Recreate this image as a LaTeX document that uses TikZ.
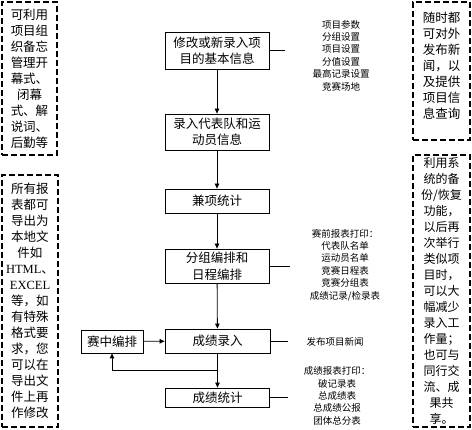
\documentclass[tikz,border=0pt]{standalone}
\usepackage{fontspec}
\setmainfont{Liberation Serif}
\newfontfamily\cjk{Noto Sans CJK SC}
\usetikzlibrary{arrows.meta,positioning,calc}

\begin{document}
\begin{tikzpicture}[
    x=1pt, y=-1pt,
    proc/.style={draw, line width=0.8pt, inner sep=0pt, align=center,
                 minimum width=104pt, font=\cjk\fontsize{12.5}{16.5}\selectfont},
    memo/.style={draw, line width=1.3pt, dash pattern=on 6pt off 3pt,
                 inner sep=0pt, align=center,
                 font=\cjk\fontsize{12.5}{16}\selectfont},
    info/.style={inner sep=0pt, align=center,
                 font=\cjk\fontsize{9.5}{12.4}\selectfont},
    arr/.style={-{Triangle[length=5pt,width=4.5pt]}, line width=0.8pt},
    link/.style={line width=0.8pt}
  ]
    \useasboundingbox (0,0) rectangle (472,430);

    % main flow
    \node[proc, minimum height=37pt] (basic) at (217,50.5) {修改或新录入项\\目的基本信息};
    \node[proc, minimum height=36pt] (teams) at (217,132) {录入代表队和运\\动员信息};
    \node[proc, minimum height=24pt] (multi) at (217,201) {兼项统计};
    \node[proc, minimum height=34pt] (groups) at (217,266) {分组编排和\\日程编排};
    \node[proc, minimum height=24pt, minimum width=105pt] (entry) at (217.5,341) {成绩录入};
    \node[proc, minimum height=19pt] (stats) at (217.5,397.5) {成绩统计};
    \node[proc, minimum height=23pt, minimum width=62pt] (midsched) at (112,341.5) {赛中编排};

    \draw[arr] (basic) -- (teams);
    \draw[arr] (teams) -- (multi);
    \draw[arr] (multi) -- (groups);
    \draw[arr] (groups) -- (entry);
    \draw[arr] (entry) -- (stats);
    \draw[arr] (midsched) -- (entry);
    \coordinate (split) at ($(entry.south)!0.5!(stats.north)$);
    \draw[arr] (split) -| (midsched.south);

    % side notes
    \node[info] (basicInfo) at (341,55.5)
      {项目参数\\分组设置\\项目设置\\分值设置\\最高记录设置\\竞赛场地};
    \node[info] (groupInfo) at (345,265)
      {赛前报表打印：\\代表队名单\\运动员名单\\竞赛日程表\\竞赛分组表\\成绩记录/检录表};
    \node[info] (entryInfo) at (335,342) {发布项目新闻};
    \node[info] (statsInfo) at (337,396)
      {成绩报表打印：\\破记录表\\总成绩表\\总成绩公报\\团体总分表};

    \coordinate[right=16pt of basic.east] (basicTip);
    \coordinate[right=21pt of groups.east] (groupTip);
    \coordinate[right=18pt of entry.east] (entryTip);
    \coordinate[right=18.5pt of stats.east] (statsTip);
    \draw[link] (basic.east) -- (basicTip);
    \draw[link] (groups.east) -- (groupTip);
    \draw[link] (entry.east) -- (entryTip);
    \draw[link] (stats.east) -- (statsTip);

    % dashed memos
    \node[memo, minimum width=55pt, minimum height=153pt] (memoPlan) at (29.5,78.5)
      {可利用\\项目组\\织备忘\\管理开\\幕式、\\闭幕\\式、解\\说词、\\后勤等};
    \node[memo, minimum width=56pt, minimum height=252pt] (memoExport) at (30,301)
      {所有报\\表都可\\导出为\\本地文\\件如\\{\rmfamily HTML}、\\{\rmfamily EXCEL}\\等，如\\有特殊\\格式要\\求，您\\可以在\\导出文\\件上再\\作修改};
    \node[memo, minimum width=57pt, minimum height=138pt] (memoNews) at (441.5,71)
      {随时都\\可对外\\发布新\\闻，以\\及提供\\项目信\\息查询\\[-4pt]\mbox{}};
    \node[memo, minimum width=57pt, minimum height=272pt,
          font=\cjk\fontsize{12}{16}\selectfont] (memoBackup) at (441.5,291)
      {利用系\\统的备\\份/恢复\\功能，\\以后再\\次举行\\类似项\\目时，\\可以大\\幅减少\\录入工\\作量；\\也可与\\同行交\\流、成\\果共\\享。};
  \end{tikzpicture}
\end{document}
